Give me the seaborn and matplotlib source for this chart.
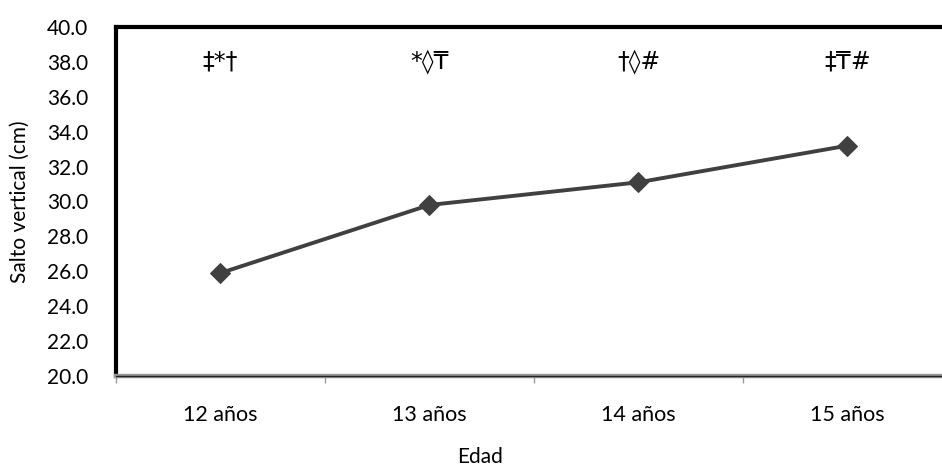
import numpy as np
import pandas as pd
import matplotlib
matplotlib.use("Agg")
import matplotlib.pyplot as plt
import seaborn as sns

# datos
edades = ["12 años", "13 años", "14 años", "15 años"]
salto = [25.9, 29.8, 31.1, 33.2]
marcas = ["‡*†", "*◊₸", "†◊#", "‡₸#"]

sns.set_theme(style="white")
plt.rcParams["font.family"] = ["Lato", "DejaVu Sans"]
plt.rcParams["text.color"] = "black"
plt.rcParams["xtick.color"] = "black"
plt.rcParams["ytick.color"] = "black"
plt.rcParams["axes.labelcolor"] = "black"

df = pd.DataFrame({"pos": np.arange(len(edades)), "salto": salto})

fig = plt.figure(figsize=(9.42, 4.70), dpi=100, facecolor="white")
ax = fig.add_axes([0.1231, 0.2, 0.8875, 0.7426])

sns.lineplot(data=df, x="pos", y="salto", ax=ax, color="#404040",
             linewidth=2.8, marker="D", markersize=10.5,
             markeredgecolor="#404040", zorder=3)

for i, m in enumerate(marcas):
    ax.text(i, 38.0, m, ha="center", va="center", fontsize=17, color="black",
            family=["DejaVu Sans"])

ax.set_xlim(-0.5, 3.5)
ax.set_ylim(20, 40)
ticks_y = np.arange(20, 40.1, 2)
ax.set_yticks(ticks_y)
ax.set_yticklabels([f"{v:.1f}" for v in ticks_y], fontsize=15)
ax.set_xticks(np.arange(len(edades)))
ax.set_xticklabels(edades, fontsize=15.5)
ax.set_xticks(np.arange(-0.5, 3.6, 1), minor=True)
ax.tick_params(axis="x", which="major", length=0, pad=21)
ax.tick_params(axis="x", which="minor", length=5, width=1, color="#999999",
               direction="out", bottom=True)
ax.tick_params(axis="y", length=0, pad=20)

ax.spines["left"].set_color("black")
ax.spines["left"].set_linewidth(3)
ax.spines["top"].set_color("black")
ax.spines["top"].set_linewidth(3)
ax.spines["right"].set_visible(False)
ax.spines["bottom"].set_color("#999999")
ax.spines["bottom"].set_linewidth(3.2)
ax.axhline(20, color="#222222", linewidth=1.0, zorder=4, clip_on=False)

ax.set_xlabel("Edad", fontsize=15, va="center")
ax.xaxis.set_label_coords(0.435, -0.232)
ax.set_ylabel("Salto vertical (cm)", fontsize=15, labelpad=12)

fig.savefig("out.png", dpi=100, facecolor="white")
